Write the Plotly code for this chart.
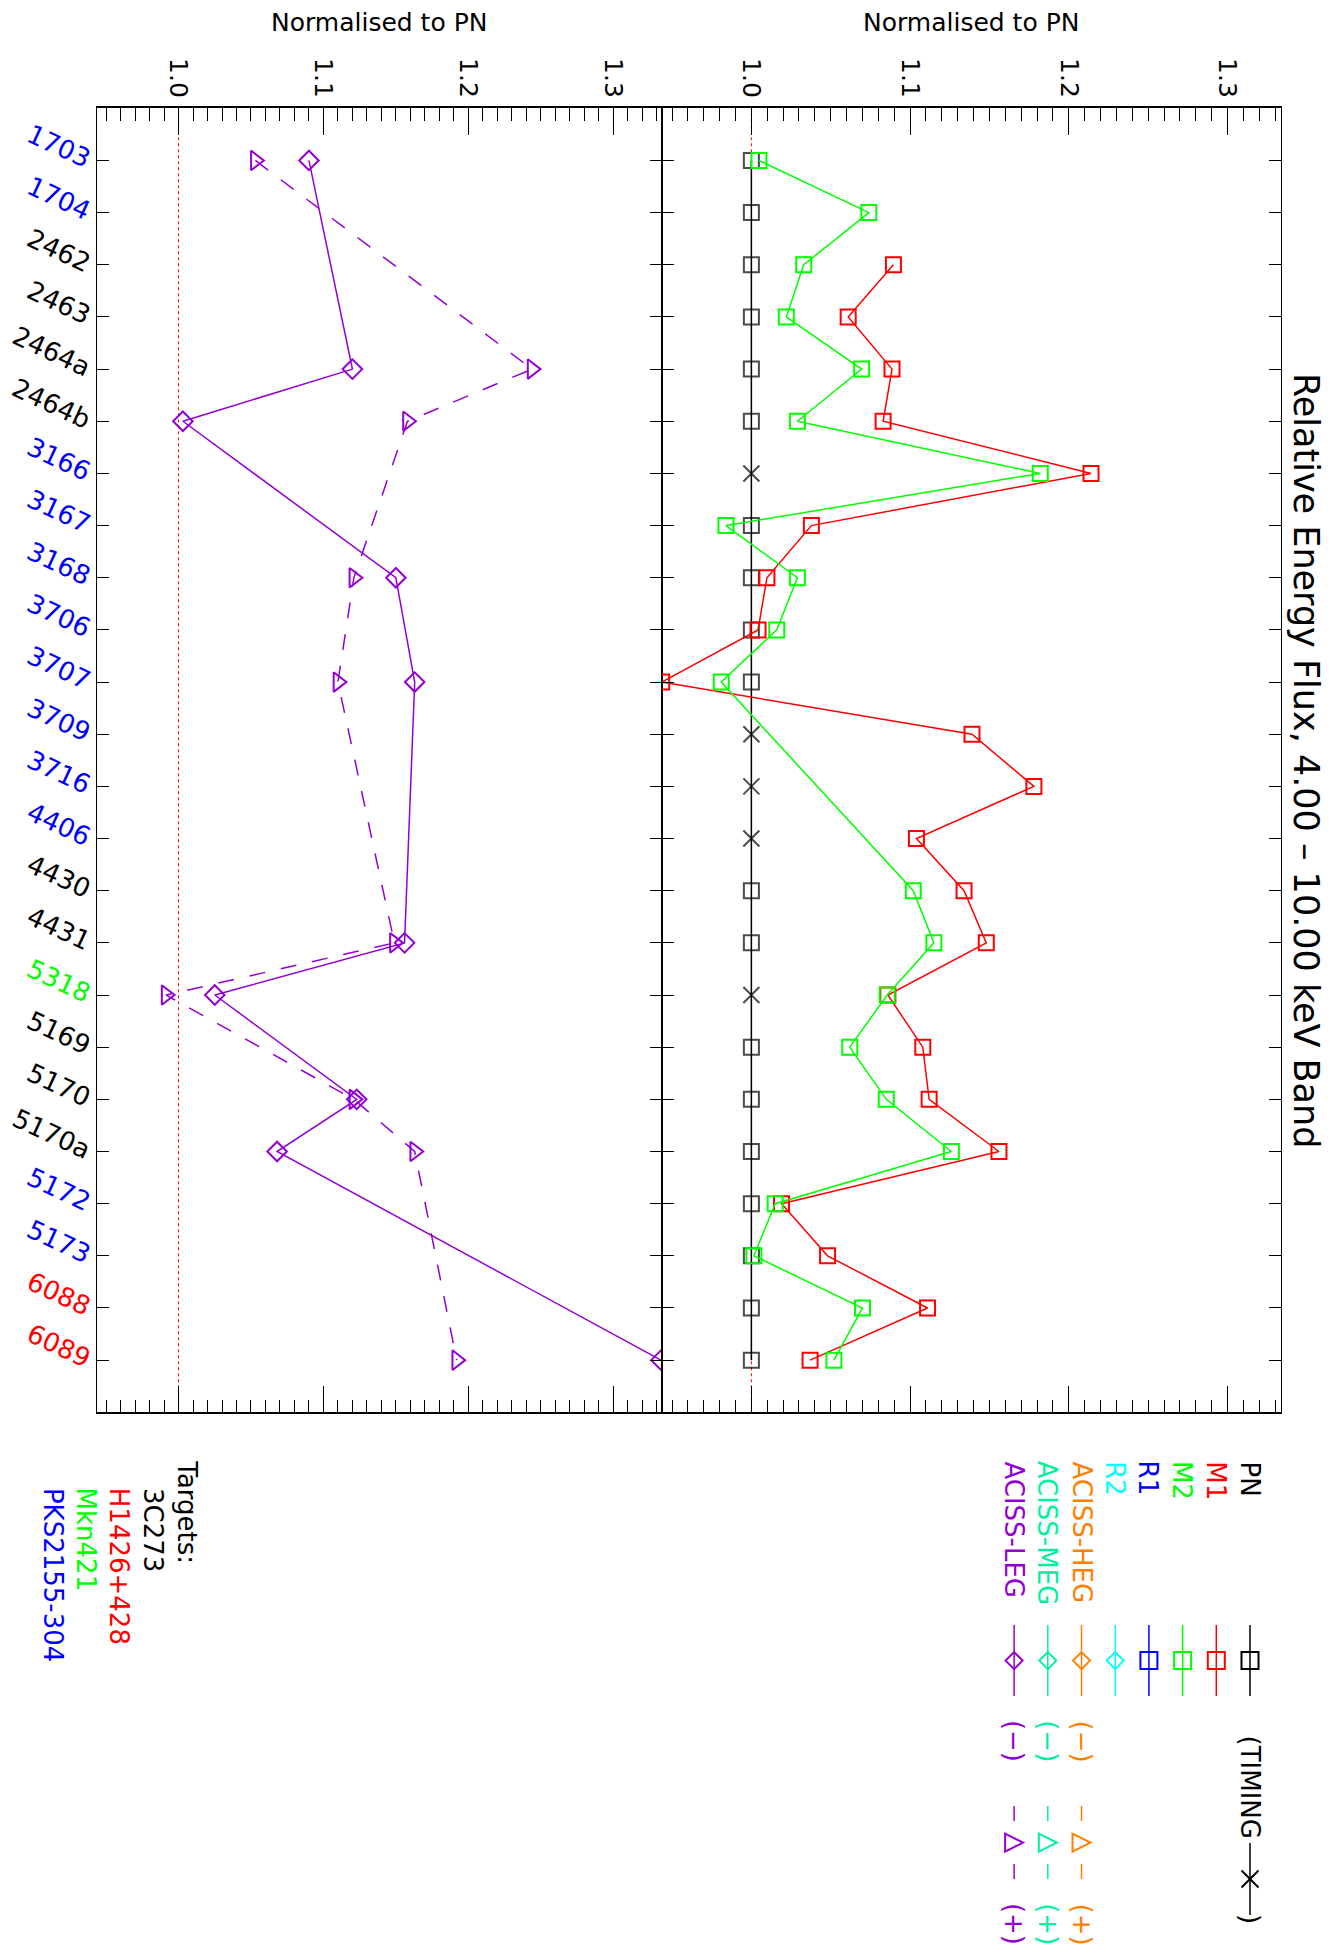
import plotly.graph_objects as go

# ---------------- data ----------------
categories = ["1703", "1704", "2462", "2463", "2464a", "2464b", "3166", "3167",
              "3168", "3706", "3707", "3709", "3716", "4406", "4430", "4431",
              "5318", "5169", "5170", "5170a", "5172", "5173", "6088", "6089"]
label_colors = ["#0000ff", "#0000ff", "#000000", "#000000", "#000000", "#000000",
                "#0000ff", "#0000ff", "#0000ff", "#0000ff", "#0000ff", "#0000ff",
                "#0000ff", "#0000ff", "#000000", "#000000", "#00ff00", "#000000",
                "#000000", "#000000", "#0000ff", "#0000ff", "#ff0000", "#ff0000"]

pn = [1.0, 1.0, 1.0, 1.0, 1.0, 1.0, 1.0, 1.0, 1.0, 1.0, 1.0, 1.0,
      1.0, 1.0, 1.0, 1.0, 1.0, 1.0, 1.0, 1.0, 1.0, 1.0, 1.0, 1.0]
pn_timing = [False, False, False, False, False, False, True, False,
             False, False, False, True, True, True, False, False,
             True, False, False, False, False, False, False, False]

m1 = [None, None, 1.0895, 1.061, 1.0886, 1.083, 1.214, 1.0378,
      1.0098, 1.0042, 0.9435, 1.139, 1.178, 1.104, 1.134, 1.148,
      1.086, 1.108, 1.112, 1.156, 1.019, 1.048, 1.111, 1.037]
m2 = [1.0048, 1.074, 1.033, 1.022, 1.0695, 1.029, 1.182, 0.984,
      1.029, 1.016, 0.981, None, None, None, 1.102, 1.115,
      1.0856, 1.062, 1.085, 1.126, 1.015, 1.0016, 1.070, 1.052]

leg_minus = [1.090, None, None, None, 1.120, 1.003, None, None,
             1.150, None, 1.163, None, None, None, None, 1.156,
             1.025, None, 1.123, 1.068, None, None, None, 1.333]
leg_plus = [1.053, None, None, None, 1.244, 1.158, None, None,
            1.121, None, 1.110, None, None, None, None, 1.149,
            0.9914, None, 1.121, 1.163, None, None, None, 1.192]

value_range = [0.9435, 1.3335]
title_text = "Relative Energy Flux, 4.00 \u2013 10.00 keV Band"
axis_title = "Normalised to PN"

legend_names = ["PN", "M1", "M2", "R1", "R2", "ACISS-HEG", "ACISS-MEG", "ACISS-LEG"]
legend_colors = ["#000000", "#ff0000", "#00ff00", "#0000ff", "#00ffff",
                 "#ff8000", "#00f0a0", "#9400d3"]
legend_symbols = ["square", "square", "square", "square",
                  "diamond", "diamond", "diamond", "diamond"]

targets = ["3C273", "H1426+428", "Mkn421", "PKS2155-304"]
target_colors = ["#000000", "#ff0000", "#00ff00", "#0000ff"]

# ---------------- layout helpers ----------------
W, H = 1339, 1955
FONT = "DejaVu Sans"


def X(p):
    return p / W


def Y(p):
    return 1 - p / H


L_LEFT, L_MID, L_RIGHT = 96.7, 661.7, 1280.7
P_TOP, P_BOT = 108.3, 1412.3

PURPLE = "#9400d3"


def pairs(vals):
    xs, ys = [], []
    for c, v in zip(categories, vals):
        if v is not None:
            xs.append(v)
            ys.append(c)
    return xs, ys


fig = go.Figure()

# ---- top panel (right side): PN, M1, M2 ----
pn_sym = ["x-thin" if t else "square" for t in pn_timing]
pn_size = [16 if t else 15 for t in pn_timing]
fig.add_trace(go.Scatter(
    x=pn, y=categories, mode="lines+markers", xaxis="x2", yaxis="y2",
    line=dict(color="black", width=1.5),
    marker=dict(symbol=pn_sym, size=pn_size, color="rgba(0,0,0,0)",
                line=dict(color="black", width=2)),
    name="PN"))
xs, ys = pairs(m1)
fig.add_trace(go.Scatter(
    x=xs, y=ys, mode="lines+markers", xaxis="x2", yaxis="y2",
    line=dict(color="#ff0000", width=1.5),
    marker=dict(symbol="square-open", size=15, color="#ff0000",
                line=dict(color="#ff0000", width=2)),
    name="M1"))
xs, ys = pairs(m2)
fig.add_trace(go.Scatter(
    x=xs, y=ys, mode="lines+markers", xaxis="x2", yaxis="y2",
    line=dict(color="#00ff00", width=1.5),
    marker=dict(symbol="square-open", size=15, color="#00ff00",
                line=dict(color="#00ff00", width=2)),
    name="M2"))

# ---- bottom panel (left side): ACIS-LEG ----
xs, ys = pairs(leg_minus)
fig.add_trace(go.Scatter(
    x=xs, y=ys, mode="lines+markers", xaxis="x", yaxis="y",
    line=dict(color=PURPLE, width=1.5),
    marker=dict(symbol="diamond-open", size=15, color=PURPLE,
                line=dict(color=PURPLE, width=2)),
    name="ACIS-LEG (-)"))
xs, ys = pairs(leg_plus)
fig.add_trace(go.Scatter(
    x=xs, y=ys, mode="lines+markers", xaxis="x", yaxis="y",
    line=dict(color=PURPLE, width=1.5, dash="16px,16px"),
    marker=dict(symbol="triangle-right-open", size=17, color=PURPLE,
                line=dict(color=PURPLE, width=2)),
    name="ACIS-LEG (+)"))

ticktext = ['<span style="color:%s">%s</span>' % (c, t)
            for t, c in zip(categories, label_colors)]

xaxis_common = dict(
    range=value_range, side="top", tickmode="linear", tick0=1.0, dtick=0.1,
    tickformat=".1f", ticks="inside", ticklen=27, tickwidth=1, tickcolor="black",
    tickangle=90, tickfont=dict(family=FONT, size=25, color="black"),
    showline=True, linecolor="black", linewidth=1.5, mirror="ticks",
    showgrid=False, zeroline=False,
    minor=dict(ticks="inside", ticklen=13, dtick=0.01, tick0=1.0,
               tickwidth=1, tickcolor="black", showgrid=False),
)
yaxis_common = dict(
    type="category", range=[24, -1], tickmode="array", tickvals=categories,
    ticks="inside", ticklen=12, tickwidth=1, tickcolor="black",
    showline=True, linecolor="black", linewidth=1, mirror="ticks",
    showgrid=False, zeroline=False, domain=[Y(P_BOT), Y(P_TOP)],
)

fig.update_layout(
    width=W, height=H, margin=dict(l=0, r=0, t=0, b=0),
    paper_bgcolor="white", plot_bgcolor="white", showlegend=False,
    font=dict(family=FONT, size=25, color="black"),
    xaxis=dict(domain=[X(L_LEFT), X(L_MID)], anchor="y", **xaxis_common),
    xaxis2=dict(domain=[X(L_MID), X(L_RIGHT)], anchor="y2", **xaxis_common),
    yaxis=dict(anchor="x", ticktext=ticktext, tickangle=25,
               tickfont=dict(family=FONT, size=26), **yaxis_common),
    yaxis2=dict(anchor="x2", matches="y", showticklabels=False, **yaxis_common),
)

shapes = []
annotations = []

# reference lines at 1.0
for xr, yr in (("x", "y domain"), ("x2", "y2 domain")):
    shapes.append(dict(type="line", xref=xr, yref=yr, x0=1.0, x1=1.0, y0=0, y1=1,
                       line=dict(color="#ff0000", width=1, dash="dot"), layer="below"))

# axis titles
for xc in ((L_LEFT + L_MID) / 2, (L_MID + L_RIGHT) / 2):
    annotations.append(dict(text=axis_title, x=X(xc), y=Y(23), xref="paper", yref="paper",
                            xanchor="center", yanchor="middle", showarrow=False,
                            font=dict(family=FONT, size=25, color="black")))

# main title (rotated)
annotations.append(dict(text=title_text, x=X(1306), y=Y(760), xref="paper", yref="paper",
                        xanchor="center", yanchor="middle", showarrow=False, textangle=90,
                        font=dict(family=FONT, size=35, color="black")))


def seg(x, y0, y1, color, dash=None):
    d = dict(type="line", xref="paper", yref="paper", x0=X(x), x1=X(x),
             y0=Y(y0), y1=Y(y1), line=dict(color=color, width=1.5))
    if dash:
        d["line"]["dash"] = dash
    return d


def marker_shape(kind, cx, cy, color, h=8.5):
    if kind == "square":
        return dict(type="rect", xref="paper", yref="paper",
                    x0=X(cx - h), x1=X(cx + h), y0=Y(cy + h), y1=Y(cy - h),
                    line=dict(color=color, width=2), fillcolor="rgba(0,0,0,0)")
    if kind == "diamond":
        path = "M %f,%f L %f,%f L %f,%f L %f,%f Z" % (
            X(cx), Y(cy - h), X(cx + h), Y(cy), X(cx), Y(cy + h), X(cx - h), Y(cy))
    elif kind == "triangle":
        path = "M %f,%f L %f,%f L %f,%f Z" % (
            X(cx - h), Y(cy - h), X(cx + h), Y(cy), X(cx - h), Y(cy + h))
    else:  # x
        path = "M %f,%f L %f,%f M %f,%f L %f,%f" % (
            X(cx - h), Y(cy - h), X(cx + h), Y(cy + h),
            X(cx - h), Y(cy + h), X(cx + h), Y(cy - h))
    return dict(type="path", xref="paper", yref="paper", path=path,
                line=dict(color=color, width=2), fillcolor="rgba(0,0,0,0)")


def rot_text(text, cx, top, color, size=26):
    return dict(text=text, x=X(cx), y=Y(top), xref="paper", yref="paper",
                xanchor="center", yanchor="top", showarrow=False, textangle=90,
                font=dict(family=FONT, size=size, color=color))


# legend
for i, (name, col, sym) in enumerate(zip(legend_names, legend_colors, legend_symbols)):
    xc = 1250 - 33.7 * i
    annotations.append(rot_text(name, xc, 1459, col))
    shapes.append(seg(xc, 1625, 1696, col))
    shapes.append(marker_shape(sym, xc, 1660.6, col))
    if name == "PN":
        annotations.append(rot_text("(TIMING", xc, 1733, col))
        shapes.append(seg(xc, 1843, 1915, col))
        shapes.append(marker_shape("x", xc, 1879, col))
        annotations.append(rot_text(")", xc, 1912, col))
    if name.startswith("ACISS"):
        annotations.append(rot_text("(\u2212)", xc, 1718, col))
        shapes.append(seg(xc, 1806, 1821, col))
        shapes.append(seg(xc, 1864, 1879, col))
        shapes.append(marker_shape("triangle", xc, 1842.6, col, h=9))
        annotations.append(rot_text("(+)", xc, 1901, col))

# targets
annotations.append(rot_text("Targets:", 186.7, 1458, "black"))
for i, (t, c) in enumerate(zip(targets, target_colors)):
    annotations.append(rot_text(t, 153 - 33.3 * i, 1486, c))

fig.update_layout(shapes=shapes, annotations=annotations)

fig.write_html("out.html", config={"displayModeBar": False},
               post_script="document.body.style.margin='0';")
